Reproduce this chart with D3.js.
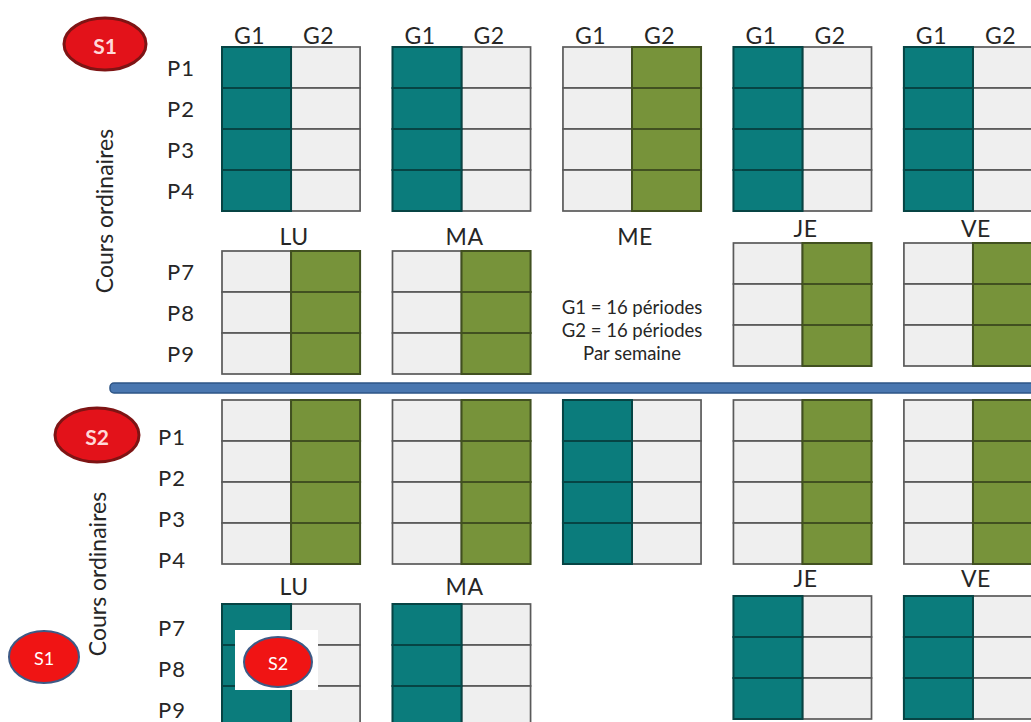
<!DOCTYPE html>
<html><head><meta charset="utf-8">
<script src="https://cdn.jsdelivr.net/npm/d3@7"></script>
<style>
html,body{margin:0;padding:0;background:#fff;overflow:hidden}
svg{display:block}
text{font-family:Lato,"Open Sans","Noto Sans",sans-serif;fill:#262626}
</style>
</head><body>
<svg id="chart" width="1031" height="722"></svg>
<script>
// ---------- data ----------
const days = ["LU","MA","ME","JE","VE"];
const groups = ["G1","G2"];
const periodsAM = ["P1","P2","P3","P4"];
const periodsPM = ["P7","P8","P9"];
const sessions = ["S1","S2"];
// which group has class in each block (per day)
const s1AM = ["G1","G1","G2","G1","G1"];
const s1PM = ["G2","G2",null,"G2","G2"];
const s2AM = ["G2","G2","G1","G2","G2"];
const s2PM = ["G1","G1",null,"G1","G1"];
const s1DayLabels = ["LU","MA","ME","JE","VE"];
const s2DayLabels = ["LU","MA","","JE","VE"];
const legendLines = ["G1 = 16 périodes","G2 = 16 périodes","Par semaine"];
const sideLabel = "Cours ordinaires";

// ---------- layout / style ----------
const W = 1031, H = 722;
const svg = d3.select("#chart");
svg.append("rect").attr("width",W).attr("height",H).attr("fill","#fff");

const color = d3.scaleOrdinal().domain(groups).range(["#0b7c7c","#77933a"]);
const emptyFill = "#efefef";
const rowH = 41;

const x = d3.scaleBand().domain(days).range([222, 1042]).paddingInner(0.19).paddingOuter(0);
const sub = d3.scaleBand().domain(groups).range([0, x.bandwidth()]);

const sectionTop = {S1: 47, S2: 400};
const pmOffset = 204;
const pmShift = d => (d === "JE" || d === "VE") ? -8 : 0;
const labelShift = {S1: {dx: 0, am: 0, pm: 0}, S2: {dx: -9, am: 16, pm: 3}};

const sectionData = {
  S1: {am: s1AM, pm: s1PM, dayLabels: s1DayLabels},
  S2: {am: s2AM, pm: s2PM, dayLabels: s2DayLabels}
};

function drawBlock(g, top, periods, assign, shiftFn) {
  const y = d3.scaleBand().domain(periods).range([0, periods.length * rowH]);
  const cells = [];
  days.forEach((d, i) => {
    if (!assign[i]) return;
    periods.forEach(p => groups.forEach(gr => {
      cells.push({day: d, period: p, group: gr, active: assign[i] === gr});
    }));
  });
  const sorted = cells.filter(c => !c.active).concat(cells.filter(c => c.active));
  g.selectAll(null).data(sorted).join("rect")
    .attr("x", c => x(c.day) + sub(c.group))
    .attr("y", c => top + shiftFn(c.day) + y(c.period))
    .attr("width", sub.bandwidth())
    .attr("height", y.bandwidth())
    .attr("fill", c => c.active ? color(c.group) : emptyFill)
    .attr("stroke", c => c.active ? d3.color(color(c.group)).darker(1.7) : "#5a5a5a")
    .attr("stroke-width", c => c.active ? 2 : 1.7);
  return y;
}

sessions.forEach(s => {
  const top = sectionTop[s];
  const sd = sectionData[s];
  const g = svg.append("g");
  const yAM = drawBlock(g, top, periodsAM, sd.am, () => 0);
  const yPM = drawBlock(g, top + pmOffset, periodsPM, sd.pm, pmShift);

  // period labels
  const ls = labelShift[s];
  g.selectAll(null).data(periodsAM).join("text")
    .attr("x", 167 + ls.dx)
    .attr("y", p => top + yAM(p) + yAM.bandwidth()/2 + 8 + ls.am)
    .attr("font-size", 22).attr("letter-spacing", 1).text(p => p);
  g.selectAll(null).data(periodsPM).join("text")
    .attr("x", 167 + ls.dx)
    .attr("y", p => top + pmOffset + yPM(p) + yPM.bandwidth()/2 + 8 + ls.pm)
    .attr("font-size", 22).attr("letter-spacing", 1).text(p => p);

  // day labels
  g.selectAll(null).data(days).join("text")
    .attr("x", d => x(d) + x.bandwidth()/2 + 3)
    .attr("y", d => top + pmOffset + pmShift(d) - 6 - (s === "S2" ? 3 : 0))
    .attr("text-anchor", "middle").attr("font-size", 23).attr("letter-spacing", 0.5)
    .text((d, i) => sd.dayLabels[i]);

  // side label
  g.append("text")
    .attr("transform", `translate(${s === "S1" ? 104 : 97},${s === "S1" ? 211 : 574}) rotate(-90)`)
    .attr("text-anchor", "middle").attr("dominant-baseline", "central")
    .attr("font-size", 23).text(sideLabel);
});

// group headers (S1 only)
days.forEach(d => {
  svg.selectAll(null).data(groups).join("text")
    .attr("x", gr => x(d) + sub(gr) + sub.bandwidth()/2 - 7)
    .attr("y", sectionTop.S1 - 3)
    .attr("text-anchor", "middle").attr("font-size", 23).attr("letter-spacing", 0.5)
    .text(gr => gr);
});

// legend text
svg.selectAll(null).data(legendLines).join("text")
  .attr("x", 632).attr("y", (t, i) => 314 + i * 23)
  .attr("text-anchor", "middle").attr("font-size", 18.5)
  .text(t => t);

// separator
svg.append("rect").attr("x", 110).attr("y", 383).attr("width", 940).attr("height", 10)
  .attr("rx", 4).attr("fill", "#4a77b0").attr("stroke", "#2e5586").attr("stroke-width", 1.5);

// session badges
function badge(cx, cy, rx, ry, label, fill, stroke, sw, fs, fw, tc) {
  svg.append("ellipse").attr("cx", cx).attr("cy", cy).attr("rx", rx).attr("ry", ry)
    .attr("fill", fill).attr("stroke", stroke).attr("stroke-width", sw);
  svg.append("text").attr("x", cx).attr("y", cy + 1).attr("text-anchor", "middle")
    .attr("dominant-baseline", "central").attr("font-size", fs).attr("font-weight", fw)
    .style("fill", tc).text(label);
}
badge(105, 44, 41, 26, sessions[0], "#e3121a", "#7e1414", 3, 21, 700, "#ffd9d9");
badge(97, 435, 42, 27, sessions[1], "#e3121a", "#7e1414", 3, 21, 700, "#ffd9d9");
badge(44, 657, 35, 26, sessions[0], "#f01414", "#3d5a86", 2, 18, 400, "#fff");
svg.append("rect").attr("x", 235).attr("y", 630).attr("width", 83).attr("height", 60).attr("fill", "#fff");
badge(278, 662, 34, 25, sessions[1], "#f01414", "#3d5a86", 2, 18, 400, "#fff");
</script>
</body></html>
